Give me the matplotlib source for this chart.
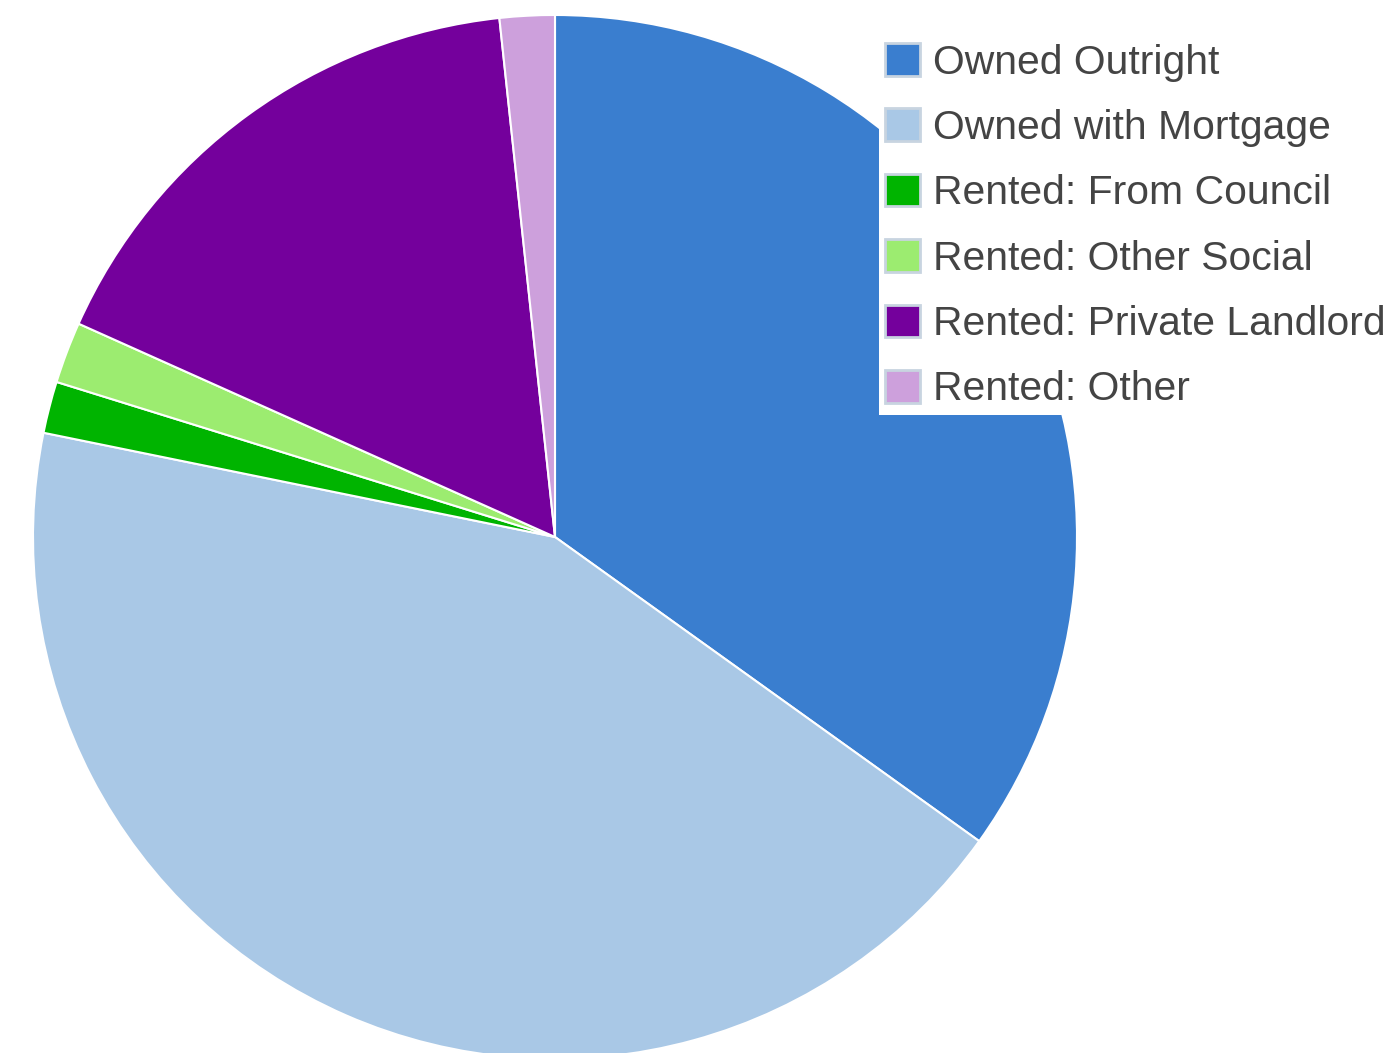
import matplotlib

matplotlib.use("Agg")
import matplotlib.pyplot as plt

labels = [
    "Owned Outright",
    "Owned with Mortgage",
    "Rented: From Council",
    "Rented: Other Social",
    "Rented: Private Landlord",
    "Rented: Other",
]
shares = [34.9, 43.3, 1.6, 1.9, 16.6, 1.7]
colors = ["#3a7ecf", "#a9c8e6", "#00b400", "#9cec70", "#74009c", "#cda0dc"]

plt.rcParams["font.family"] = ["Liberation Sans", "DejaVu Sans"]

fig = plt.figure(figsize=(13.99, 10.53), dpi=100)
ax = fig.add_axes([33 / 1399, 1 - 1059 / 1053, 1044 / 1399, 1044 / 1053])
wedges, _ = ax.pie(
    shares,
    colors=colors,
    startangle=90,
    counterclock=False,
    radius=1.0,
    wedgeprops=dict(edgecolor="white", linewidth=1.5),
)
ax.set_xlim(-1, 1)
ax.set_ylim(-1, 1)
ax.set_aspect("auto")
ax.axis("off")

leg = fig.legend(
    wedges,
    labels,
    loc="upper left",
    bbox_to_anchor=(879 / 1399, 1 - 37 / 1053),
    borderaxespad=0,
    fontsize=29.4,
    frameon=True,
    fancybox=False,
    framealpha=1.0,
    borderpad=0.15,
    labelspacing=0.66,
    handlelength=0.85,
    handleheight=0.85,
    handletextpad=0.32,
)
leg.get_frame().set_facecolor("white")
leg.get_frame().set_edgecolor("none")
for t in leg.get_texts():
    t.set_color("#444444")
for h in leg.legend_handles:
    h.set_edgecolor("#c8d4e0")
    h.set_linewidth(2)

fig.savefig("out.png", dpi=100)
plt.close(fig)
